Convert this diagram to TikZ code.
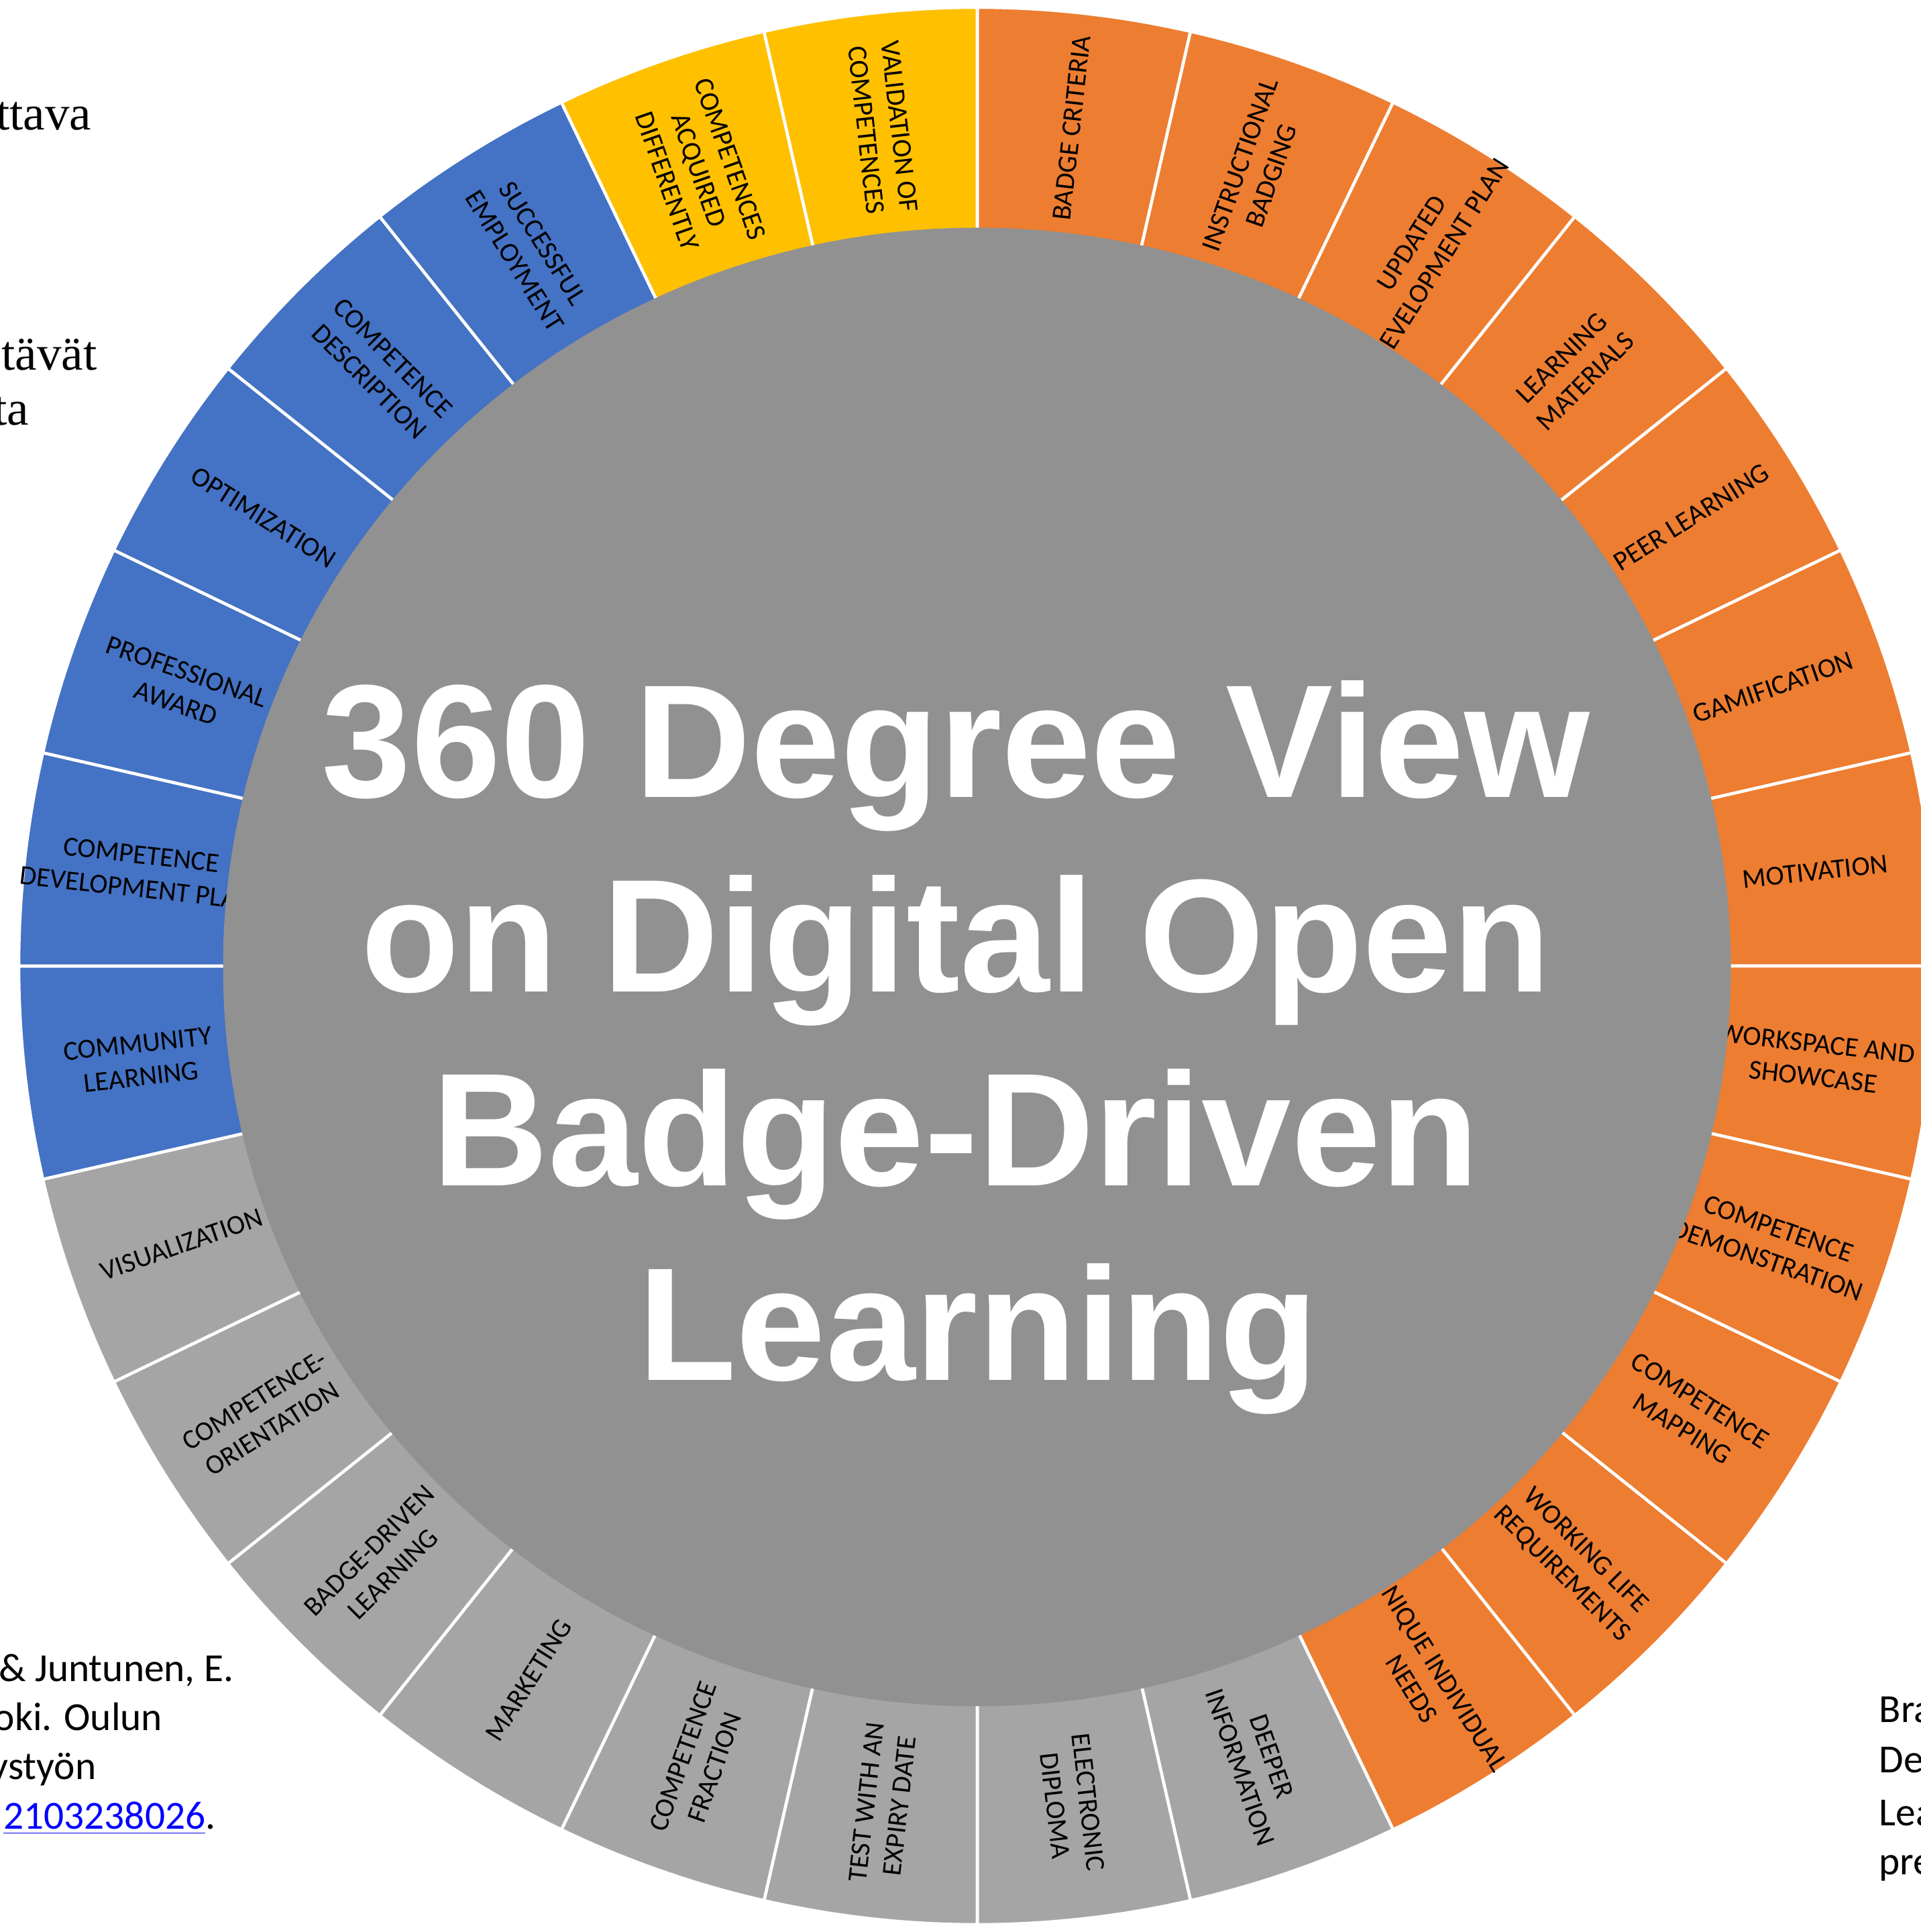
\documentclass[tikz,border=0pt]{standalone}
\usepackage{fontspec}
\setmainfont{Carlito}
\newfontfamily\titlefont{Liberation Sans}
\newfontfamily\seriffont{Liberation Serif}
\definecolor{segorange}{RGB}{237,125,49}
\definecolor{seggray}{RGB}{165,165,165}
\definecolor{segblue}{RGB}{68,114,196}
\definecolor{segyellow}{RGB}{255,192,0}
\definecolor{hubgray}{RGB}{145,145,145}
\definecolor{linkblue}{RGB}{0,0,255}
\begin{document}
\begin{tikzpicture}[
  seg/.style={draw=white, line width=1.3pt, line join=round},
  lab/.style={font=\fontsize{11.66pt}{14.2pt}\selectfont, align=center, inner sep=0pt, text=black},
  titleline/.style={font=\titlefont\bfseries\fontsize{68.3pt}{82pt}\selectfont, text=white, inner sep=0pt, anchor=base},
  sidetext/.style={font=\fontsize{16.9pt}{20.6pt}\selectfont, inner sep=0pt},
  serifside/.style={font=\seriffont\fontsize{20.8pt}{24pt}\selectfont, inner sep=0pt, anchor=base east},
]
\useasboundingbox (0,0) rectangle (28.64,28.80);
\coordinate (c) at (14.57,14.40);

% ring segments
\begin{scope}[shift={(14.57,14.40)}]
\foreach \i/\col in {0/segorange,1/segorange,2/segorange,3/segorange,4/segorange,5/segorange,
  6/segorange,7/segorange,8/segorange,9/segorange,10/segorange,11/segorange,
  12/seggray,13/seggray,14/seggray,15/seggray,16/seggray,17/seggray,18/seggray,19/seggray,
  20/segblue,21/segblue,22/segblue,23/segblue,24/segblue,25/segblue,
  26/segyellow,27/segyellow}{
  \pgfmathsetmacro\aA{90-\i*360/28}
  \pgfmathsetmacro\aB{90-(\i+1)*360/28}
  \filldraw[seg, fill=\col] (\aA:14.29) arc[start angle=\aA, end angle=\aB, radius=14.29cm]
     -- (\aB:10.5) arc[start angle=\aB, end angle=\aA, radius=10.5cm] -- cycle;
}
% labels
\foreach \i/\txt in {0/{BADGE CRITERIA},1/{INSTRUCTIONAL\\BADGING},2/{UPDATED\\DEVELOPMENT PLAN},
  3/{LEARNING\\MATERIALS},4/{PEER LEARNING},5/{GAMIFICATION},6/{MOTIVATION},
  7/{WORKSPACE AND\\SHOWCASE},8/{COMPETENCE\\DEMONSTRATION},9/{COMPETENCE\\MAPPING},
  10/{WORKING LIFE\\REQUIREMENTS},11/{UNIQUE INDIVIDUAL\\NEEDS},12/{DEEPER\\INFORMATION},
  13/{ELECTRONIC\\DIPLOMA},14/{TEST WITH AN\\EXPIRY DATE},15/{COMPETENCE\\FRACTION},
  16/{MARKETING},17/{BADGE-DRIVEN\\LEARNING},18/{COMPETENCE-\\ORIENTATION},
  19/{VISUALIZATION},20/{COMMUNITY\\LEARNING},21/{COMPETENCE\\DEVELOPMENT PLAN},
  22/{PROFESSIONAL\\AWARD},23/{OPTIMIZATION},24/{COMPETENCE\\DESCRIPTION},
  25/{SUCCESSFUL\\EMPLOYMENT},26/{COMPETENCES\\ACQUIRED\\DIFFERENTLY},
  27/{VALIDATION OF\\COMPETENCES}}{
  \pgfmathsetmacro\angm{90-(\i+0.5)*360/28}
  \pgfmathsetmacro\rot{ifthenelse(\i<14,\angm,\angm+180)}
  \node[lab, rotate=\rot] (lab\i) at (\angm:12.57) {\txt};
}
\end{scope}

% central hub
\fill[hubgray] (14.565,14.385) ellipse [x radius=11.24cm, y radius=11.02cm];

% title
\node[titleline] (t1) at (14.25,16.91) {360 Degree View};
\node[titleline] (t2) at (14.25,14.01) {on Digital Open};
\node[titleline] (t3) at (14.25,11.12) {Badge-Driven};
\node[titleline] (t4) at (14.58,8.22) {Learning};

% surrounding page text (cropped)
\node[serifside] (s1) at (1.37,26.86) {ttava};
\node[serifside] (s2) at (1.45,23.28) {tävät};
\node[serifside] (s3) at (0.44,22.46) {ta};

\node[sidetext, anchor=base east] (r1) at (3.49,3.73) {\& Juntunen, E.};
\node[sidetext, anchor=base east] (r2) at (2.43,3.00) {oki. Oulun};
\node[sidetext, anchor=base east] (r3) at (1.44,2.27) {ystyön};
\node[sidetext, anchor=base east] (r4) at (3.22,1.53) {\textcolor{linkblue}{\underline{2103238026}}.};

\node[sidetext, anchor=base west] (q1) at (28.01,3.12) {Bra};
\node[sidetext, anchor=base west] (q2) at (28.01,2.37) {De};
\node[sidetext, anchor=base west] (q3) at (28.01,1.58) {Lea};
\node[sidetext, anchor=base west] (q4) at (28.01,0.85) {pre};
\end{tikzpicture}
\end{document}
